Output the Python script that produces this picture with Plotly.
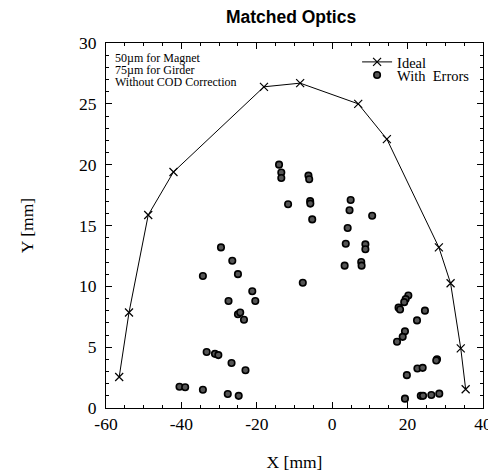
import plotly.graph_objects as go

# Ideal orbit points
ideal_x = [-56.5, -53.9, -48.8, -42.1, -18.1, -8.5, 6.9, 14.5, 28.3, 31.4, 34.1, 35.4]
ideal_y = [2.55, 7.85, 15.86, 19.4, 26.4, 26.7, 25.0, 22.1, 13.2, 10.25, 4.9, 1.54]

# With errors points
err_x = [-29.5, -26.5, -34.3, -25.0, -21.2, -27.5, -20.4, -25.0, -24.4, -23.4,
         -33.3, -31.1, -30.2, -26.7, -23.0, -40.5, -39.0, -34.3, -27.7, -24.8,
         -14.1, -13.5, -13.5, -6.3, -6.1, -11.7, -5.85, -5.8, -5.3, -7.8,
         4.9, 4.6, 10.6, 4.1, 3.6, 8.8, 8.8, 3.3, 7.7, 7.8,
         20.2, 19.5, 19.1, 17.6, 18.0, 24.6, 22.5, 19.3, 18.7, 17.2,
         27.8, 27.6, 22.6, 24.0, 19.8, 19.3, 23.5, 24.1, 26.3, 28.4]
err_y = [13.2, 12.1, 10.85, 11.0, 9.6, 8.8, 8.8, 7.7, 7.85, 7.25,
         4.6, 4.45, 4.35, 3.7, 3.1, 1.75, 1.7, 1.5, 1.15, 1.0,
         20.0, 19.35, 18.9, 19.1, 18.8, 16.75, 17.0, 16.8, 15.5, 10.3,
         17.1, 16.25, 15.8, 14.8, 13.5, 13.45, 13.05, 11.7, 12.0, 11.7,
         9.25, 8.95, 8.7, 8.25, 8.1, 8.0, 7.2, 6.3, 5.85, 5.45,
         4.0, 3.9, 3.25, 3.3, 2.7, 0.77, 1.0, 1.0, 1.07, 1.18]

# Tick labels
x_tickvals = [-60, -40, -20, 0, 20, 40]
x_ticktext = ["-60", "-40", "-20", "0", "20", "40"]
y_tickvals = [0, 5, 10, 15, 20, 25, 30]
y_ticktext = ["0", "5", "10", "15", "20", "25", "30"]

# Annotation lines
note_lines = ["50µm for Magnet", "75µm for Girder", "Without COD Correction"]

serif = "Liberation Serif"

fig = go.Figure()
fig.add_trace(go.Scatter(
    x=ideal_x, y=ideal_y, mode="lines+markers", name="Ideal", legend="legend",
    line=dict(color="black", width=1),
    marker=dict(symbol="x-thin", size=8, line=dict(color="black", width=1.2)),
))
fig.add_trace(go.Scatter(
    x=err_x, y=err_y, mode="markers", name="With\u00a0\u00a0Errors", legend="legend2",
    marker=dict(symbol="circle", size=6.5, color="#555555",
                line=dict(color="black", width=1.6)),
))

axis_common = dict(
    showgrid=False, zeroline=False, showline=True, linecolor="black", linewidth=1,
    mirror="ticks", ticks="inside", ticklen=6, tickcolor="black", tickwidth=1,
    tickfont=dict(family=serif, size=17.5, color="black"),
    ticklabeloverflow="allow", automargin=False,
)
fig.update_xaxes(range=[-60, 40], tickmode="array", tickvals=x_tickvals, ticktext=x_ticktext,
                 minor=dict(dtick=5, tick0=-60, ticks="inside", ticklen=3, tickcolor="black"),
                 title=dict(text="X [mm]", font=dict(family=serif, size=17.5, color="black"), standoff=24),
                 **axis_common)
fig.update_yaxes(range=[0, 30], tickmode="array", tickvals=y_tickvals, ticktext=y_ticktext,
                 ticklabelstandoff=5,
                 minor=dict(dtick=1, tick0=0, ticks="inside", ticklen=3, tickcolor="black"),
                 title=dict(text="Y [mm]", font=dict(family=serif, size=17.5, color="black"), standoff=40),
                 **axis_common)

for i, line in enumerate(note_lines):
    fig.add_annotation(
        x=0.019, y=0.960 - i * 0.0335, xref="paper", yref="paper", xanchor="left", yanchor="middle",
        align="left", showarrow=False, text=line,
        font=dict(family=serif, size=12, color="black"),
    )

leg_common = dict(xanchor="left", yanchor="middle", bgcolor="rgba(0,0,0,0)",
                  font=dict(family=serif, size=14.5, color="black"), tracegroupgap=0)

# page body has an 8px margin, so the figure is sized/offset to land where the reference is
fig.update_layout(
    width=488, height=464,
    margin=dict(l=98, r=13, t=35, b=64),
    paper_bgcolor="white", plot_bgcolor="white",
    title=dict(text="<b>Matched Optics</b>", x=0.580, xanchor="center", y=0.981, yanchor="middle",
               font=dict(family="Liberation Sans", size=17.5, color="black")),
    legend=dict(x=0.666, y=0.948, **leg_common),
    legend2=dict(x=0.666, y=0.912, **leg_common),
    showlegend=True,
)

fig.write_html("out.html")
